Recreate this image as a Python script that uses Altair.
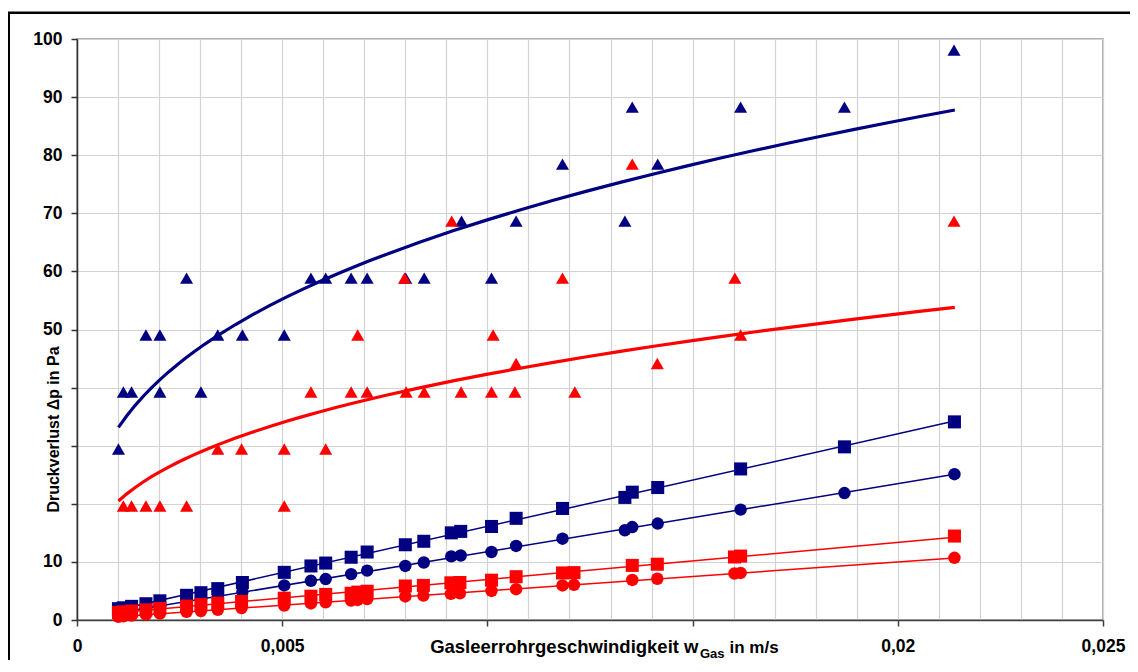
import altair as alt
import pandas as pd

# ---------------- data ----------------
# triangles: measured pressure drop (multiples of 9.81 Pa)
x_tri_blue = [0.00101, 0.00113, 0.00133, 0.00168, 0.00202, 0.00202, 0.00267, 0.00302, 0.00343,
              0.00403, 0.00505, 0.00570, 0.00606, 0.00668, 0.00707, 0.00801, 0.00846, 0.00937,
              0.01010, 0.01070, 0.01183, 0.01335, 0.01353, 0.01415, 0.01617, 0.01870, 0.02137]
y_tri_blue = [29.43, 39.24, 39.24, 49.05, 49.05, 39.24, 58.86, 39.24, 49.05,
              49.05, 49.05, 58.86, 58.86, 58.86, 58.86, 58.86, 58.86, 68.67,
              58.86, 68.67, 78.48, 68.67, 88.29, 78.48, 88.29, 88.29, 98.10]

x_tri_red = [0.00113, 0.00133, 0.00168, 0.00202, 0.00267, 0.00343, 0.00401, 0.00505, 0.00505,
             0.00570, 0.00606, 0.00668, 0.00684, 0.00707, 0.00798, 0.00802, 0.00846, 0.00913,
             0.00936, 0.01010, 0.01014, 0.01067, 0.01070, 0.01183, 0.01213, 0.01353, 0.01414,
             0.01603, 0.01617, 0.02137]
y_tri_red = [19.62, 19.62, 19.62, 19.62, 19.62, 29.43, 29.43, 29.43, 19.62,
             39.24, 29.43, 39.24, 49.05, 39.24, 58.86, 39.24, 39.24, 68.67,
             39.24, 39.24, 49.05, 39.24, 44.15, 58.86, 39.24, 78.48, 44.15,
             58.86, 49.05, 68.67]

# power-law trend curves
x_curve_blue = [0.00101, 0.00198, 0.00300, 0.00401, 0.00503, 0.00604, 0.00726, 0.01079,
                0.01396, 0.01599, 0.01802, 0.02139]
y_curve_blue = [33.0, 41.9, 46.5, 51.3, 55.1, 58.5, 62.0, 70.9,
                76.5, 80.2, 83.3, 87.7]
x_curve_red = [0.00101, 0.00198, 0.00300, 0.00401, 0.00503, 0.00604, 0.00726, 0.01079,
               0.01396, 0.01802, 0.02139]
y_curve_red = [20.5, 25.4, 29.0, 31.5, 34.0, 36.0, 38.2, 43.3,
               47.2, 50.8, 54.0]

x_sq_blue = [0.00101, 0.00113, 0.00133, 0.00168, 0.00202, 0.00267, 0.00302, 0.00343, 0.00403,
             0.00505, 0.00570, 0.00606, 0.00668, 0.00707, 0.00800, 0.00845, 0.00912, 0.00935,
             0.01010, 0.01070, 0.01183, 0.01335, 0.01353, 0.01415, 0.01617, 0.01870, 0.02138]
y_sq_blue = [1.95, 2.1, 2.35, 2.8, 3.3, 4.25, 4.7, 5.4, 6.45,
             8.2, 9.3, 9.8, 10.8, 11.7, 12.95, 13.55, 15.0, 15.25,
             16.1, 17.5, 19.2, 21.1, 22.0, 22.8, 26.0, 29.8, 34.1]

x_ci_blue = x_sq_blue
y_ci_blue = [1.25, 1.4, 1.6, 2.0, 2.4, 3.1, 3.55, 4.0, 4.8,
             5.95, 6.75, 7.05, 7.9, 8.5, 9.3, 9.9, 10.95, 11.1,
             11.7, 12.75, 14.0, 15.45, 16.0, 16.6, 19.0, 21.85, 25.1]

x_sq_red = [0.00101, 0.00113, 0.00133, 0.00168, 0.00202, 0.00267, 0.00302, 0.00343, 0.00401,
            0.00505, 0.00570, 0.00606, 0.00668, 0.00684, 0.00707, 0.00800, 0.00844, 0.00911,
            0.00933, 0.01010, 0.01070, 0.01183, 0.01211, 0.01353, 0.01414, 0.01602, 0.01617,
            0.02138]
y_sq_red = [1.3, 1.4, 1.55, 1.75, 2.0, 2.4, 2.65, 2.9, 3.2,
            3.75, 4.1, 4.4, 4.6, 4.8, 4.95, 5.85, 5.95, 6.4,
            6.45, 6.85, 7.45, 8.1, 8.15, 9.4, 9.6, 10.85, 11.0,
            14.45]

x_ci_red = x_sq_red
y_ci_red = [0.55, 0.65, 0.75, 0.95, 1.1, 1.4, 1.55, 1.75, 2.05,
            2.5, 2.85, 3.05, 3.35, 3.45, 3.6, 4.05, 4.2, 4.5,
            4.6, 5.0, 5.3, 5.95, 6.05, 6.9, 7.1, 8.0, 8.1,
            10.7]

x_ticks = [i / 1000 for i in range(26)]
y_ticks = list(range(0, 101, 10))

y_title = "Druckverlust Δp in Pa"
x_title_parts = ["Gasleerrohrgeschwindigkeit w", "Gas", "in m/s"]

BLUE = "#000080"
RED = "#FF0000"
FONT = "Liberation Sans"


def part(xs, ys, name):
    return pd.DataFrame({"x": xs, "y": ys, "series": name})


df = pd.concat([
    part(x_tri_blue, y_tri_blue, "tri_blue"),
    part(x_tri_red, y_tri_red, "tri_red"),
    part(x_curve_blue, y_curve_blue, "curve_blue"),
    part(x_curve_red, y_curve_red, "curve_red"),
    part(x_sq_blue, y_sq_blue, "sq_blue"),
    part(x_ci_blue, y_ci_blue, "ci_blue"),
    part(x_sq_red, y_sq_red, "sq_red"),
    part(x_ci_red, y_ci_red, "ci_red"),
], ignore_index=True)

tick5 = "abs(datum.value * 200 - round(datum.value * 200)) < 0.001"

x_axis = alt.Axis(
    values=x_ticks, grid=True, gridColor="#d2d2d2", gridWidth=1.2,
    domainColor="#404040", domainWidth=1.5,
    tickColor="#404040", tickWidth=1.5, tickSize=6,
    tickOpacity={"condition": {"test": tick5, "value": 1}, "value": 0},
    labelExpr=("(" + tick5 + ") && (datum.value < 0.009 || datum.value > 0.017) ? "
               "replace(toString(round(datum.value * 1000) / 1000), '.', ',') : ''"),
    labelFont=FONT, labelFontWeight="bold", labelFontSize=17.5, labelColor="black",
    labelPadding=11, labelOverlap=False, labelFlush=False, title=None,
)

y_axis = alt.Axis(
    values=y_ticks, grid=True, gridColor="#d2d2d2", gridWidth=1.2,
    domainColor="#303030", domainWidth=1.5,
    tickColor="#303030", tickWidth=1.5, tickSize=6,
    labelExpr="datum.value >= 20 && datum.value <= 40 ? '' : datum.label",
    labelFont=FONT, labelFontWeight="bold", labelFontSize=17.5, labelColor="black",
    labelPadding=9, labelOverlap=False,
    title=y_title, titleFont=FONT, titleFontWeight="bold", titleFontSize=16,
    titleColor="black", titleAngle=270, titleX=-24, titleY=390,
    titleAlign="center", titleBaseline="middle",
)

X = alt.X("x:Q", scale=alt.Scale(domain=[0, 0.025], nice=False, zero=False), axis=x_axis)
Y = alt.Y("y:Q", scale=alt.Scale(domain=[0, 100], nice=False, zero=False), axis=y_axis)

base = alt.Chart(df)


def fit(name, method, color, width):
    return (base.transform_filter(alt.datum.series == name)
            .transform_regression("x", "y", method=method)
            .mark_line(color=color, strokeWidth=width)
            .encode(x=X, y=Y))


def pts(name, shape, color, size):
    return (base.transform_filter(alt.datum.series == name)
            .mark_point(shape=shape, filled=True, color=color, size=size, opacity=1, strokeWidth=0)
            .encode(x=X, y=Y))


layers = [
    fit("sq_blue", "linear", BLUE, 1.5),
    fit("ci_blue", "linear", BLUE, 1.5),
    pts("tri_blue", "triangle-up", BLUE, 170),
    pts("sq_blue", "square", BLUE, 170),
    pts("ci_blue", "circle", BLUE, 155),
    fit("sq_red", "linear", RED, 1.5),
    fit("ci_red", "linear", RED, 1.5),
    pts("tri_red", "triangle-up", RED, 170),
    pts("sq_red", "square", RED, 170),
    pts("ci_red", "circle", RED, 155),
    fit("curve_blue", "pow", BLUE, 3.2),
    fit("curve_red", "pow", RED, 3.2),
]

# x-axis title with subscript, composed of text pieces
t_main = alt.Chart(pd.DataFrame({"t": [x_title_parts[0]]})).mark_text(
    font=FONT, fontWeight="bold", fontSize=18.5, align="right", baseline="alphabetic", color="black"
).encode(x=alt.value(621.5), y=alt.value(613.5), text="t:N")
t_sub = alt.Chart(pd.DataFrame({"t": [x_title_parts[1]]})).mark_text(
    font=FONT, fontWeight="bold", fontSize=13, align="left", baseline="alphabetic", color="black"
).encode(x=alt.value(623), y=alt.value(618.5), text="t:N")
t_end = alt.Chart(pd.DataFrame({"t": [x_title_parts[2]]})).mark_text(
    font=FONT, fontWeight="bold", fontSize=17, align="left", baseline="alphabetic", color="black"
).encode(x=alt.value(652.5), y=alt.value(613.5), text="t:N")

# outer chart frame
frame = alt.Chart(pd.DataFrame({"f": [0]})).mark_rect(
    fillOpacity=0, stroke="black", strokeWidth=2.6, clip=False
).encode(x=alt.value(-68.3), x2=alt.value(1300), y=alt.value(-26.2), y2=alt.value(900))

chart = alt.layer(*layers, t_main, t_sub, t_end, frame).properties(
    width=1026, height=581,
    autosize=alt.AutoSizeParams(type="none"),
    padding={"left": 69, "top": 31, "right": 27, "bottom": 40},
    background="white",
).configure_view(stroke="#999999", strokeWidth=1.5)

chart.save("out.html", embed_options={"renderer": "svg", "actions": False})
